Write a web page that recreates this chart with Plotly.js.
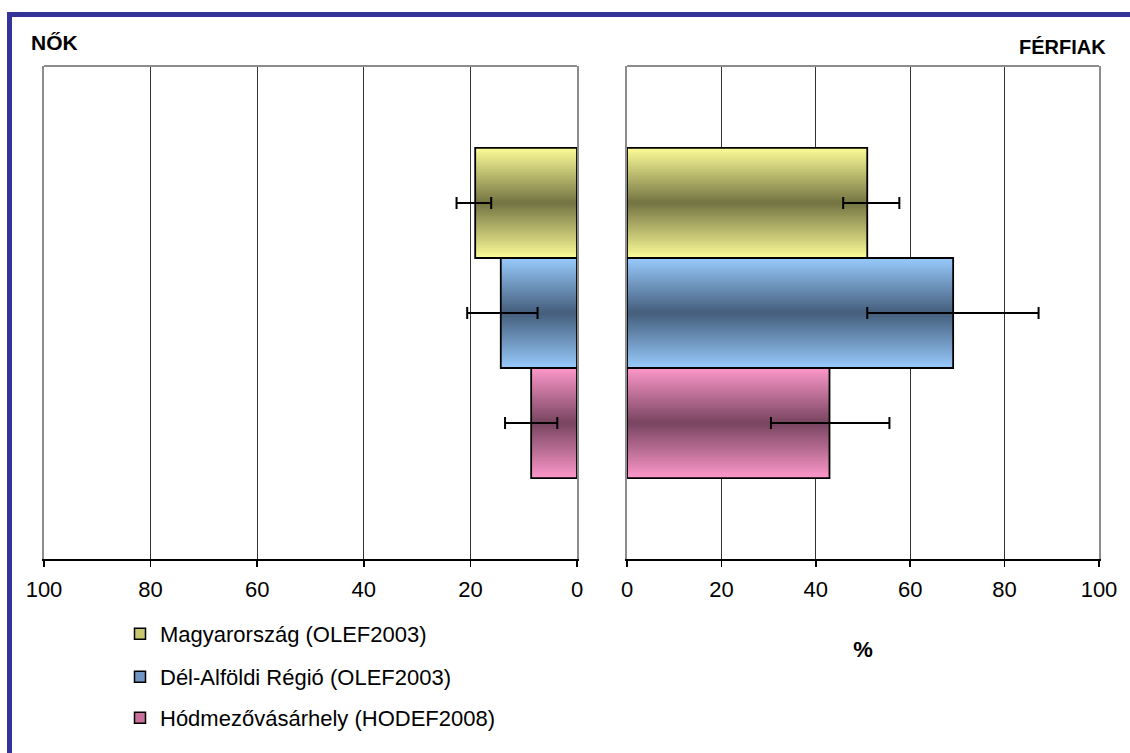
<!DOCTYPE html>
<html>
<head>
<meta charset="utf-8">
<script src="https://cdn.plot.ly/plotly-3.0.1.min.js"></script>
<style>
  html, body { margin: 0; padding: 0; background: #fff; }
  #wrap { position: relative; width: 1130px; height: 753px; overflow: hidden; }
  #chart { position: absolute; left: 0; top: 0; width: 1130px; height: 753px; }
  #frame { position: absolute; left: 7px; top: 12px; right: 0; bottom: 0;
           border-top: 5px solid #333399; border-left: 5px solid #333399;
           pointer-events: none; }
</style>
</head>
<body>
<div id="wrap">
  <div id="chart"></div>
  <div id="frame"></div>
</div>
<script>
// ---------------- data ----------------
const series = ['Magyarország (OLEF2003)', 'Dél-Alföldi Régió (OLEF2003)', 'Hódmezővásárhely (HODEF2008)'];
const femaleValues = [19.1, 14.3, 8.6];
const femaleErrPlus = [3.5, 6.3, 4.9];
const femaleErrMinus = [3.0, 6.9, 4.9];
const maleValues = [50.9, 69.1, 42.9];
const maleErrPlus = [6.8, 18.1, 12.7];
const maleErrMinus = [5.1, 18.2, 12.4];
const tickValues = [0, 20, 40, 60, 80, 100];
const panelTitles = ['NŐK', 'FÉRFIAK'];
const axisTitle = '%';

// ---------------- styles ----------------
const lightCols = [[250, 250, 150], [150, 200, 250], [250, 150, 200]];
const darkCols  = [[118, 118, 68],  [70, 96, 126],   [122, 70, 98]];
const legendCols = ['rgb(200,200,112)', 'rgb(112,150,196)', 'rgb(200,112,156)'];
const STEPS = 26;
const FONT = 'Liberation Sans, Arial, sans-serif';

function mix(a, b, t) {
  return 'rgb(' + a.map((v, i) => Math.round(v + (b[i] - v) * t)).join(',') + ')';
}

const traces = [];
function addPanel(values, errP, errM, xa, ya) {
  for (let k = 0; k < STEPS; k++) {
    const t = k / (STEPS - 1);
    traces.push({
      type: 'bar', orientation: 'h',
      x: values, y: series,
      xaxis: xa, yaxis: ya,
      width: values.map(() => 1 - k / STEPS),
      marker: { color: series.map((s, i) => mix(lightCols[i], darkCols[i], t)), line: { width: 0 } },
      showlegend: false, hoverinfo: 'skip'
    });
  }
  // outline + error bars on top
  traces.push({
    type: 'bar', orientation: 'h',
    x: values, y: series,
    xaxis: xa, yaxis: ya,
    width: values.map(() => 1),
    marker: { color: 'rgba(0,0,0,0)', line: { color: '#000', width: 1.8 } },
    error_x: { type: 'data', symmetric: false, array: errP, arrayminus: errM,
               color: '#000', thickness: 2, width: 6 },
    showlegend: false, hoverinfo: 'skip'
  });
}
addPanel(femaleValues, femaleErrPlus, femaleErrMinus, 'x', 'y');
addPanel(maleValues, maleErrPlus, maleErrMinus, 'x2', 'y2');

// legend entries
series.forEach((s, i) => {
  traces.push({
    type: 'scatter', mode: 'markers', x: [null], y: [null],
    xaxis: 'x', yaxis: 'y',
    name: s,
    legend: i === 0 ? 'legend' : 'legend' + (i + 1),
    marker: { symbol: 'square', size: 11, color: legendCols[i], line: { color: '#000', width: 1.5 } },
    hoverinfo: 'skip'
  });
});

const W = 1130, H = 753;
const mL = 44, mR = 31, mT = 66, mB = 194;
const pw = W - mL - mR, ph = H - mT - mB;
const px = v => (v - mL) / pw;        // page x -> paper
const py = v => (H - mB - v) / ph;    // page y -> paper

const xCommon = {
  tickvals: tickValues,
  tickfont: { family: FONT, size: 22, color: '#000' },
  showgrid: true, gridcolor: '#333', gridwidth: 1,
  zeroline: false,
  showline: true, linecolor: '#000', linewidth: 1.5,
  ticks: 'outside', ticklen: 6, tickwidth: 1.5, tickcolor: '#000',
  ticklabelstandoff: 4,
  fixedrange: true, automargin: false
};
const yCommon = {
  type: 'category', categoryorder: 'array', categoryarray: series,
  range: [3.236, -1.245],
  showticklabels: false, ticks: '', showgrid: false, zeroline: false,
  showline: true, mirror: true, linecolor: '#8c8c8c', linewidth: 2,
  fixedrange: true, automargin: false
};

const legendBase = {
  xanchor: 'left', yanchor: 'middle',
  font: { family: FONT, size: 22, color: '#000' },
  bgcolor: 'rgba(0,0,0,0)', borderwidth: 0, itemwidth: 30
};

const layout = {
  width: W, height: H,
  margin: { l: mL, r: mR, t: mT, b: mB },
  paper_bgcolor: '#fff', plot_bgcolor: '#fff',
  barmode: 'overlay',
  font: { family: FONT, color: '#000' },
  xaxis: Object.assign({}, xCommon, { domain: [0, px(577)], range: [100, 0], anchor: 'y' }),
  yaxis: Object.assign({}, yCommon, { domain: [0, 1], anchor: 'x' }),
  xaxis2: Object.assign({}, xCommon, { domain: [px(627), 1], range: [0, 100], anchor: 'y2',
    title: { text: '<b>' + axisTitle + '</b>', font: { family: FONT, size: 22, color: '#000' }, standoff: 40 } }),
  yaxis2: Object.assign({}, yCommon, { domain: [0, 1], anchor: 'x2' }),
  legend:  Object.assign({}, legendBase, { x: px(120), y: py(634) }),
  legend2: Object.assign({}, legendBase, { x: px(120), y: py(677) }),
  legend3: Object.assign({}, legendBase, { x: px(120), y: py(718) }),
  shapes: [
    { type: 'line', xref: 'x domain', yref: 'y domain', x0: 0, x1: 1, y0: 1, y1: 1,
      line: { color: '#8c8c8c', width: 2 } },
    { type: 'line', xref: 'x2 domain', yref: 'y2 domain', x0: 0, x1: 1, y0: 1, y1: 1,
      line: { color: '#8c8c8c', width: 2 } }
  ],
  annotations: [
    { text: '<b>' + panelTitles[0] + '</b>', xref: 'paper', yref: 'paper',
      x: px(29), y: py(43), xanchor: 'left', yanchor: 'middle', showarrow: false,
      font: { family: FONT, size: 21, color: '#000' } },
    { text: '<b>' + panelTitles[1] + '</b>', xref: 'paper', yref: 'paper',
      x: px(1108), y: py(47), xanchor: 'right', yanchor: 'middle', showarrow: false,
      font: { family: FONT, size: 20, color: '#000' } }
  ],
  hovermode: false
};

Plotly.newPlot('chart', traces, layout, { staticPlot: true, displayModeBar: false });
</script>
</body>
</html>
